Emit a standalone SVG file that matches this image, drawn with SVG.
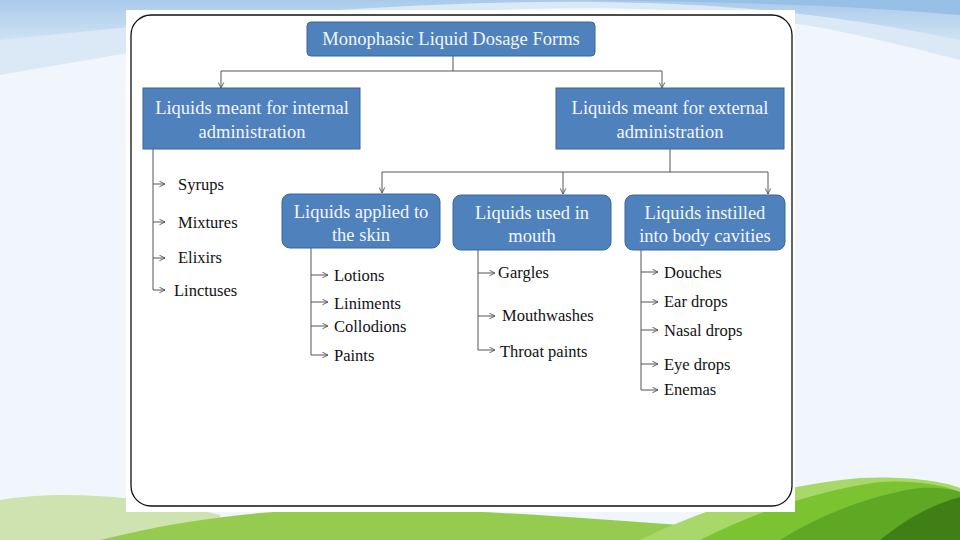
<svg xmlns="http://www.w3.org/2000/svg" width="960" height="540" viewBox="0 0 960 540">
<defs>
<style>
.box{fill:#4f81bd;stroke:#3b6796;stroke-width:1}
.bt{font-family:"Liberation Serif","Times New Roman",serif;font-size:18.5px;fill:#f2f6fb;text-anchor:middle}
.it{font-family:"Liberation Serif","Times New Roman",serif;font-size:16.5px;fill:#111}
.ln{fill:none;stroke:#555;stroke-width:1}
</style>
<marker id="ah" viewBox="0 0 10 10" refX="9" refY="5" markerWidth="7" markerHeight="7" orient="auto" markerUnits="userSpaceOnUse">
<path d="M1,1 L9,5 L1,9" fill="none" stroke="#555" stroke-width="1.3"/>
</marker>
<linearGradient id="sky" x1="0" y1="0" x2="0" y2="1">
<stop offset="0" stop-color="#a9cbeb"/>
<stop offset="1" stop-color="#cfe2f4"/>
</linearGradient>
</defs>
<rect x="0" y="0" width="960" height="540" fill="#f0f6fb"/>
<path d="M0,0 H960 V60 C880,40 780,10 600,8 C400,6 200,40 0,75 Z" fill="#dbe9f6"/>
<path d="M0,0 H960 V40 C860,20 760,4 600,2 C400,0 200,20 0,40 Z" fill="url(#sky)"/>
<path d="M0,0 H960 V15 C850,5 700,0 500,0 Z" fill="#98bfe6"/>
<path d="M0,500 C60,490 140,495 220,515 L220,540 L0,540 Z" fill="#cfe3b0"/>
<path d="M100,540 C200,515 300,505 420,510 C520,512 600,520 680,525 L700,540 Z" fill="#95cc4f"/>
<path d="M640,540 C700,510 780,485 860,478 C900,476 940,480 960,488 V540 Z" fill="#a8d86a"/>
<path d="M700,540 C760,510 820,490 880,482 C910,480 940,484 960,492 V540 Z" fill="#7cc332"/>
<path d="M780,540 C820,515 870,495 920,488 C940,487 955,490 960,492 V540 Z" fill="#5fa823"/>
<path d="M880,540 C905,520 930,505 960,497 V540 Z" fill="#3f7f16"/>
<rect x="126" y="10" width="669" height="502" fill="#ffffff"/>
<rect x="131" y="15" width="661" height="491" rx="20" ry="20" fill="none" stroke="#111" stroke-width="1.3"/>

<g id="connectors">
<path class="ln" d="M453,56 V71 H221 V88" marker-end="url(#ah)"/>
<path class="ln" d="M453,71 H662 V88" marker-end="url(#ah)"/>
<path class="ln" d="M670,149 V172 H382 V193" marker-end="url(#ah)"/>
<path class="ln" d="M563,172 V194" marker-end="url(#ah)"/>
<path class="ln" d="M670,172 H768 V194" marker-end="url(#ah)"/>
<path class="ln" d="M153,149 V290"/>
<path class="ln" d="M153,184 H165" marker-end="url(#ah)"/>
<path class="ln" d="M153,222 H165" marker-end="url(#ah)"/>
<path class="ln" d="M153,258 H165" marker-end="url(#ah)"/>
<path class="ln" d="M153,290 H165" marker-end="url(#ah)"/>
<path class="ln" d="M311,248 V355"/>
<path class="ln" d="M311,275 H328" marker-end="url(#ah)"/>
<path class="ln" d="M311,302 H328" marker-end="url(#ah)"/>
<path class="ln" d="M311,326 H328" marker-end="url(#ah)"/>
<path class="ln" d="M311,355 H328" marker-end="url(#ah)" stroke-width="1.5"/>
<path class="ln" d="M478,250 V350"/>
<path class="ln" d="M478,273 H495" marker-end="url(#ah)"/>
<path class="ln" d="M478,316 H495" marker-end="url(#ah)"/>
<path class="ln" d="M478,350 H495" marker-end="url(#ah)"/>
<path class="ln" d="M641,250 V390"/>
<path class="ln" d="M641,272 H658" marker-end="url(#ah)" stroke-width="1.5"/>
<path class="ln" d="M641,302 H658" marker-end="url(#ah)"/>
<path class="ln" d="M641,330 H658" marker-end="url(#ah)"/>
<path class="ln" d="M641,364 H658" marker-end="url(#ah)"/>
<path class="ln" d="M641,390 H658" marker-end="url(#ah)"/>
</g>

<g id="root">
<rect class="box" x="307" y="22" width="288" height="34" rx="4"/>
<text class="bt" x="451" y="45">Monophasic Liquid Dosage Forms</text>
</g>
<g id="internal">
<rect class="box" x="143" y="88" width="217" height="61"/>
<text class="bt" x="252" y="114">Liquids meant for internal</text>
<text class="bt" x="252" y="138">administration</text>
</g>
<g id="external">
<rect class="box" x="556" y="88" width="228" height="61"/>
<text class="bt" x="670" y="114">Liquids meant for external</text>
<text class="bt" x="670" y="138">administration</text>
</g>
<g id="skin">
<rect class="box" x="282" y="194" width="158" height="54" rx="8"/>
<text class="bt" x="361" y="218">Liquids applied to</text>
<text class="bt" x="361" y="241">the skin</text>
</g>
<g id="mouth">
<rect class="box" x="453" y="195" width="158" height="55" rx="8"/>
<text class="bt" x="532" y="219">Liquids used in</text>
<text class="bt" x="532" y="242">mouth</text>
</g>
<g id="cavities">
<rect class="box" x="625" y="195" width="160" height="55" rx="8"/>
<text class="bt" x="705" y="219">Liquids instilled</text>
<text class="bt" x="705" y="242">into body cavities</text>
</g>

<g id="internal-items">
<text class="it" x="178" y="190">Syrups</text>
<text class="it" x="178" y="228">Mixtures</text>
<text class="it" x="178" y="263">Elixirs</text>
<text class="it" x="174" y="296">Linctuses</text>
</g>
<g id="skin-items">
<text class="it" x="334" y="281">Lotions</text>
<text class="it" x="334" y="309">Liniments</text>
<text class="it" x="334" y="332">Collodions</text>
<text class="it" x="334" y="361">Paints</text>
</g>
<g id="mouth-items">
<text class="it" x="498" y="278">Gargles</text>
<text class="it" x="502" y="321">Mouthwashes</text>
<text class="it" x="500" y="357">Throat paints</text>
</g>
<g id="cavity-items">
<text class="it" x="664" y="278">Douches</text>
<text class="it" x="664" y="307">Ear drops</text>
<text class="it" x="664" y="336">Nasal drops</text>
<text class="it" x="664" y="370">Eye drops</text>
<text class="it" x="664" y="395">Enemas</text>
</g>
</svg>
